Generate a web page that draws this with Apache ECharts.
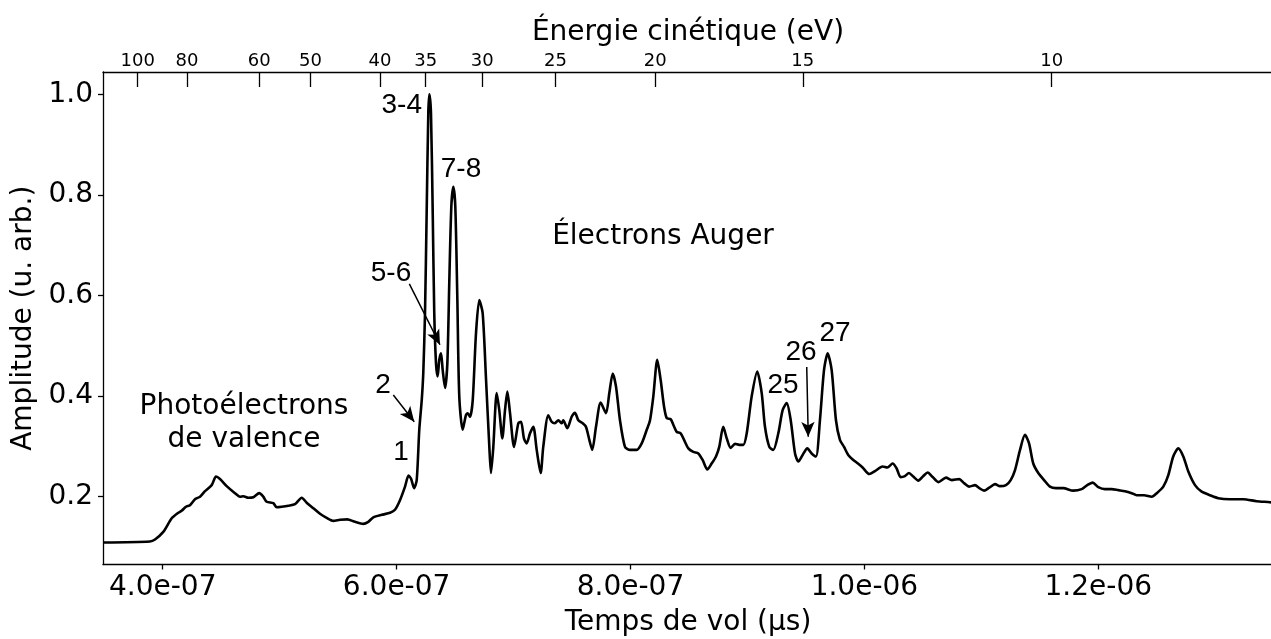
<!DOCTYPE html>
<html><head><meta charset="utf-8">
<script src="https://cdn.jsdelivr.net/npm/echarts@6/dist/echarts.min.js"></script>
<style>html,body{margin:0;padding:0;background:#fff}#c{width:1271px;height:639px}</style>
</head><body><div id="c"></div>
<script>
// Time of flight (s)
const tof = [
3.492e-7,3.891e-7,3.934e-7,4.005e-7,4.077e-7,4.133e-7,4.162e-7,4.199e-7,4.233e-7,4.276e-7,
4.319e-7,4.362e-7,4.419e-7,4.456e-7,4.490e-7,4.547e-7,4.618e-7,4.661e-7,4.689e-7,4.732e-7,
4.775e-7,4.826e-7,4.860e-7,4.889e-7,4.946e-7,4.975e-7,5.018e-7,5.074e-7,5.131e-7,5.189e-7,
5.231e-7,5.288e-7,5.345e-7,5.402e-7,5.459e-7,5.516e-7,5.578e-7,5.644e-7,5.715e-7,5.758e-7,
5.801e-7,5.873e-7,5.944e-7,5.986e-7,6.029e-7,6.072e-7,6.102e-7,6.123e-7,6.150e-7,6.172e-7,
6.194e-7,6.215e-7,6.228e-7,6.243e-7,6.257e-7,6.271e-7,6.280e-7,6.294e-7,6.309e-7,6.322e-7,
6.337e-7,6.351e-7,6.365e-7,6.380e-7,6.394e-7,6.414e-7,6.434e-7,6.451e-7,6.468e-7,6.485e-7,
6.502e-7,6.519e-7,6.536e-7,6.565e-7,6.593e-7,6.608e-7,6.628e-7,6.651e-7,6.679e-7,6.707e-7,
6.736e-7,6.765e-7,6.793e-7,6.807e-7,6.827e-7,6.856e-7,6.878e-7,6.904e-7,6.927e-7,6.947e-7,
6.970e-7,7.004e-7,7.041e-7,7.064e-7,7.089e-7,7.112e-7,7.141e-7,7.169e-7,7.198e-7,7.232e-7,
7.254e-7,7.297e-7,7.326e-7,7.354e-7,7.383e-7,7.412e-7,7.425e-7,7.460e-7,7.497e-7,7.525e-7,
7.554e-7,7.591e-7,7.619e-7,7.648e-7,7.673e-7,7.705e-7,7.745e-7,7.791e-7,7.819e-7,7.848e-7,
7.876e-7,7.910e-7,7.953e-7,7.996e-7,8.053e-7,8.096e-7,8.139e-7,8.167e-7,8.195e-7,8.229e-7,
8.258e-7,8.287e-7,8.310e-7,8.344e-7,8.366e-7,8.395e-7,8.429e-7,8.458e-7,8.495e-7,8.537e-7,
8.580e-7,8.617e-7,8.657e-7,8.694e-7,8.731e-7,8.759e-7,8.793e-7,8.823e-7,8.857e-7,8.894e-7,
8.930e-7,8.965e-7,8.994e-7,9.036e-7,9.084e-7,9.122e-7,9.150e-7,9.187e-7,9.221e-7,9.264e-7,
9.301e-7,9.336e-7,9.370e-7,9.407e-7,9.435e-7,9.472e-7,9.512e-7,9.549e-7,9.586e-7,9.620e-7,
9.655e-7,9.686e-7,9.720e-7,9.757e-7,9.791e-7,9.826e-7,9.862e-7,9.905e-7,9.945e-7,9.985e-7,
10.042e-7,10.091e-7,10.156e-7,10.196e-7,10.242e-7,10.276e-7,10.310e-7,10.347e-7,10.381e-7,10.418e-7,
10.461e-7,10.504e-7,10.541e-7,10.584e-7,10.632e-7,10.698e-7,10.747e-7,10.811e-7,10.852e-7,10.897e-7,
10.946e-7,10.983e-7,11.023e-7,11.068e-7,11.117e-7,11.159e-7,11.211e-7,11.251e-7,11.288e-7,11.331e-7,
11.373e-7,11.408e-7,11.444e-7,11.487e-7,11.536e-7,11.587e-7,11.638e-7,11.701e-7,11.786e-7,11.858e-7,
11.906e-7,11.952e-7,12.000e-7,12.057e-7,12.115e-7,12.171e-7,12.228e-7,12.286e-7,12.328e-7,12.391e-7,
12.457e-7,12.500e-7,12.556e-7,12.599e-7,12.641e-7,12.684e-7,12.727e-7,12.770e-7,12.827e-7,12.884e-7,
12.955e-7,13.026e-7,13.126e-7,13.240e-7,13.354e-7,13.468e-7,13.494e-7
];
// Amplitude (arb. units)
const amplitude = [
0.109,0.111,0.115,0.130,0.157,0.168,0.172,0.180,0.183,0.195,
0.200,0.211,0.223,0.240,0.235,0.221,0.207,0.200,0.201,0.198,
0.199,0.207,0.200,0.190,0.187,0.179,0.180,0.182,0.185,0.198,
0.188,0.177,0.166,0.158,0.152,0.154,0.155,0.150,0.146,0.150,
0.159,0.164,0.168,0.174,0.193,0.220,0.242,0.236,0.217,0.233,
0.333,0.392,0.445,0.565,0.763,0.962,1.000,0.962,0.763,0.565,
0.465,0.439,0.472,0.485,0.452,0.416,0.465,0.631,0.777,0.816,
0.777,0.598,0.399,0.333,0.362,0.366,0.359,0.392,0.525,0.591,
0.565,0.432,0.299,0.247,0.299,0.406,0.372,0.316,0.372,0.409,
0.366,0.299,0.346,0.349,0.316,0.306,0.326,0.339,0.293,0.247,
0.299,0.362,0.349,0.346,0.352,0.346,0.352,0.336,0.359,0.367,
0.352,0.346,0.339,0.313,0.293,0.339,0.387,0.366,0.406,0.445,
0.419,0.352,0.299,0.293,0.293,0.306,0.333,0.352,0.399,0.472,
0.432,0.379,0.356,0.354,0.343,0.329,0.326,0.313,0.296,0.289,
0.286,0.273,0.254,0.266,0.280,0.299,0.339,0.316,0.297,0.305,
0.303,0.303,0.326,0.399,0.449,0.406,0.339,0.299,0.293,0.326,
0.372,0.386,0.352,0.286,0.270,0.283,0.296,0.286,0.280,0.352,
0.452,0.485,0.452,0.352,0.313,0.299,0.283,0.273,0.266,0.258,
0.245,0.251,0.260,0.258,0.266,0.256,0.239,0.241,0.247,0.240,
0.232,0.241,0.248,0.239,0.229,0.238,0.233,0.235,0.227,0.220,
0.223,0.217,0.212,0.218,0.225,0.221,0.223,0.233,0.253,0.293,
0.323,0.306,0.266,0.247,0.233,0.220,0.217,0.217,0.212,0.215,
0.223,0.228,0.219,0.215,0.215,0.213,0.211,0.207,0.203,0.203,
0.200,0.207,0.220,0.243,0.280,0.296,0.280,0.250,0.223,0.210,
0.203,0.197,0.195,0.195,0.191,0.189,0.188
];
// Bottom axis ticks (time of flight, s)
const timeTicks = [4e-7, 6e-7, 8e-7, 1.0e-6, 1.2e-6];
// Left axis ticks
const ampTicks = [0.2, 0.4, 0.6, 0.8, 1.0];
// Top axis: kinetic energy labels and their time-of-flight positions (s)
const energyLabels = [100, 80, 60, 50, 40, 35, 30, 25, 20, 15, 10];
const energyTickTimes = [3.786e-7, 4.208e-7, 4.826e-7, 5.264e-7, 5.858e-7, 6.249e-7, 6.733e-7, 7.359e-7, 8.211e-7, 9.473e-7, 11.602e-7];
// Peak annotations (text, time, amplitude)
const peakText = ['3-4', '7-8', '5-6', '2', '1', '25', '26', '27'];
const peakTextTime = [6.044e-7, 6.551e-7, 5.952e-7, 5.884e-7, 6.038e-7, 9.304e-7, 9.458e-7, 9.749e-7];
const peakTextAmp = [0.979, 0.850, 0.645, 0.422, 0.289, 0.422, 0.488, 0.525];
// Region annotations
const regionText = ['Photoélectrons\nde valence', 'Électrons Auger'];
const regionTime = [4.695e-7, 8.278e-7];
const regionAmp = [0.346, 0.716];
// Arrows (from -> to)
const arrowFromTime = [5.972e-7, 6.109e-7, 9.507e-7];
const arrowFromAmp = [0.402, 0.623, 0.458];
const arrowToTime = [6.151e-7, 6.371e-7, 9.520e-7];
const arrowToAmp = [0.349, 0.502, 0.319];

const FONT = 'DejaVu Sans';
const fmtExp = v => v.toExponential(1).replace(/e([+-])(\d)$/, 'e$10$2');

const chart = echarts.init(document.getElementById('c'), null, {renderer: 'canvas'});
const markPts = peakText.map((t, i) => ({
  name: t, coord: [peakTextTime[i], peakTextAmp[i]],
  label: {fontFamily: 'Liberation Sans', fontSize: 28}
})).concat(regionText.map((t, i) => ({
  name: t, coord: [regionTime[i], regionAmp[i]],
  label: {fontFamily: FONT, fontSize: 28, lineHeight: 33, align: 'center'}
})));
const arrows = arrowFromTime.map((t, i) => [
  {coord: [t, arrowFromAmp[i]]}, {coord: [arrowToTime[i], arrowToAmp[i]]}
]);

chart.setOption({
  animation: false,
  backgroundColor: '#fff',
  grid: {left: 103, right: -2, top: 72, bottom: 74.5, containLabel: false, outerBoundsMode: 'none'},
  xAxis: [{
    type: 'value', position: 'bottom', min: 3.4895e-7, max: 13.494e-7,
    name: 'Temps de vol (µs)', nameLocation: 'middle', nameGap: 44,
    nameTextStyle: {fontFamily: FONT, fontSize: 28, color: '#000'},
    axisLine: {show: true, onZero: false, lineStyle: {color: '#000', width: 1.3}},
    axisTick: {show: true, length: 5, lineStyle: {color: '#000', width: 1.3}, customValues: timeTicks},
    axisLabel: {show: true, customValues: timeTicks, formatter: fmtExp, fontFamily: FONT, fontSize: 28, color: '#000', margin: 9},
    splitLine: {show: false}
  }, {
    type: 'value', position: 'top', min: 3.4895e-7, max: 13.494e-7,
    name: 'Énergie cinétique (eV)', nameLocation: 'middle', nameGap: 21,
    nameTextStyle: {fontFamily: FONT, fontSize: 28, color: '#000'},
    axisLine: {show: true, onZero: false, lineStyle: {color: '#000', width: 1.3}},
    axisTick: {show: true, inside: true, length: 15, lineStyle: {color: '#000', width: 1.3}, customValues: energyTickTimes},
    axisLabel: {show: true, customValues: energyTickTimes, fontFamily: FONT, fontSize: 18, color: '#000', margin: 2,
      formatter: v => { const i = energyTickTimes.findIndex(t => Math.abs(t - v) < 1e-12); return i >= 0 ? String(energyLabels[i]) : ''; }},
    splitLine: {show: false}
  }],
  yAxis: {
    type: 'value', min: 0.0652, max: 1.0443,
    name: 'Amplitude (u. arb.)', nameLocation: 'middle', nameGap: 62,
    nameTextStyle: {fontFamily: FONT, fontSize: 28, color: '#000'},
    axisLine: {show: true, onZero: false, lineStyle: {color: '#000', width: 1.3}},
    axisTick: {show: true, length: 5, lineStyle: {color: '#000', width: 1.3}, customValues: ampTicks},
    axisLabel: {show: true, customValues: ampTicks, formatter: v => v.toFixed(1), fontFamily: FONT, fontSize: 28, color: '#000', margin: 10},
    splitLine: {show: false}
  },
  series: [{
    type: 'line', xAxisIndex: 0, yAxisIndex: 0,
    data: tof.map((t, i) => [t, amplitude[i]]),
    showSymbol: false, smooth: 0.25,
    lineStyle: {color: '#000', width: 2.6},
    silent: true,
    markPoint: {
      silent: true, symbol: 'circle', symbolSize: 0,
      itemStyle: {color: 'rgba(0,0,0,0)'},
      label: {show: true, position: 'inside', color: '#000', formatter: p => p.name},
      data: markPts
    },
    markLine: {
      silent: true, symbol: ['none', 'arrow'], symbolSize: [10, 15],
      lineStyle: {color: '#000', width: 1.5, type: 'solid'},
      label: {show: false},
      data: arrows
    }
  }]
});
</script>
</body></html>
